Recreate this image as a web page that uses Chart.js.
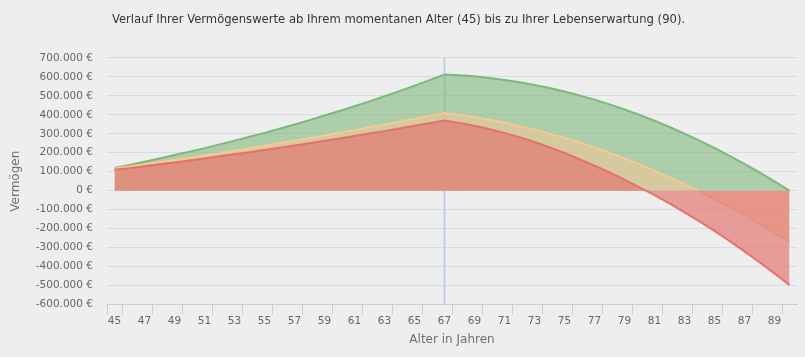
<!DOCTYPE html>
<html><head><meta charset="utf-8">
<script src="https://cdn.jsdelivr.net/npm/chart.js@4.4.1/dist/chart.umd.min.js"></script>
<style>html,body{margin:0;padding:0;background:#eeeeee;}#wrap{width:805px;height:357px;}</style>
</head><body><div id="wrap"><canvas id="c" width="805" height="357"></canvas></div>
<script>
const ages = [45,46,47,48,49,50,51,52,53,54,55,56,57,58,59,60,61,62,63,64,65,66,67,68,69,70,71,72,73,74,75,76,77,78,79,80,81,82,83,84,85,86,87,88,89,90];
const retirementAge = 67;
const valuesGreen = [120000,136000,153000,170000,188000,206000,224000,244000,264000,284000,305000,327000,349000,372000,396000,420000,445000,471000,498000,525000,554000,583000,613000,609000,603000,594000,584000,572000,557000,541000,523000,502000,480000,455000,428000,400000,369000,336000,301000,264000,225000,184000,141000,96000,49000,0];
const valuesOrange = [117000,128000,139000,151000,162000,174000,186000,198000,211000,224000,237000,250000,263000,277000,291000,305000,319000,334000,349000,364000,379000,394000,410000,400000,388000,374000,358000,341000,322000,301000,278000,254000,228000,200000,170000,139000,106000,71000,35000,-4000,-44000,-86000,-129000,-174000,-221000,-270000];
const valuesRed = [110000,119000,129000,139000,149000,159000,170000,181000,192000,203000,214000,226000,238000,250000,263000,275000,288000,301000,314000,328000,342000,356000,370000,357000,342000,324000,305000,282000,257000,229000,199000,166000,132000,96000,58000,18000,-23000,-67000,-114000,-162000,-212000,-265000,-320000,-377000,-436000,-497000];
const yMin = -600000, yMax = 700000, yStep = 100000;

const FONT = "'DejaVu Sans', sans-serif";
function fmtEuro(v){
  const neg = v < 0; const s = Math.abs(Math.round(v)).toString().replace(/\B(?=(\d{3})+(?!\d))/g, '.');
  return (neg ? '-' : '') + s + ' €';
}
const plotLine = {
  id: 'plotLine',
  beforeDatasetsDraw(chart){
    const {ctx, chartArea, scales} = chart;
    const x = scales.x.getPixelForValue(ages.indexOf(retirementAge));
    ctx.save(); ctx.strokeStyle = '#c0d0e0'; ctx.lineWidth = 2;
    ctx.beginPath(); ctx.moveTo(x, chartArea.top); ctx.lineTo(x, chartArea.bottom); ctx.stroke(); ctx.restore();
  }
};
new Chart(document.getElementById('c'), {
  type: 'line',
  data: {
    labels: ages,
    datasets: [
      {data: valuesGreen, borderColor: 'rgb(126,184,124)', backgroundColor: 'rgba(130,186,128,0.62)', fill: 'origin', order: 3},
      {data: valuesOrange, borderColor: 'rgb(246,200,146)', backgroundColor: 'rgba(240,198,148,0.6)', fill: 'origin', order: 2},
      {data: valuesRed, borderColor: 'rgb(230,112,108)', backgroundColor: 'rgba(226,118,114,0.68)', fill: 'origin', order: 1}
    ]
  },
  options: {
    responsive: false, animation: false, devicePixelRatio: 1,
    elements: {point: {radius: 0}, line: {borderWidth: 2, tension: 0}},
    layout: {padding: {left: 0, right: 8, top: 0, bottom: 0}},
    plugins: {
      legend: {display: false}, tooltip: {enabled: false},
      title: {display: true, text: 'Verlauf Ihrer Vermögenswerte ab Ihrem momentanen Alter (45) bis zu Ihrer Lebenserwartung (90).',
        color: '#333333', font: {family: FONT, size: 11.6, weight: 'normal'}, padding: {top: 13, bottom: 31}}
    },
    scales: {
      x: {
        type: 'category', offset: true,
        grid: {offset: true, drawOnChartArea: false, drawTicks: true, tickLength: 10,
          color: c => (c.index === 0 || c.index % 2 === 1) ? '#c0d0e0' : 'rgba(0,0,0,0)'},
        border: {color: '#c0d0e0'},
        ticks: {autoSkip: false, maxRotation: 0, color: '#666666', font: {family: FONT, size: 10.5}, padding: 0,
          callback: (v, i) => i % 2 === 0 ? String(ages[i]) : ''},
        title: {display: true, text: 'Alter in Jahren', color: '#707070', font: {family: FONT, size: 12}, padding: {top: 4, bottom: 10}},
        afterFit: s => { s.height = 52.5; }
      },
      y: {
        min: yMin, max: yMax,
        ticks: {stepSize: yStep, color: '#666666', font: {family: FONT, size: 10.5}, padding: 14, callback: v => fmtEuro(v)},
        grid: {color: '#d5dce8', drawTicks: false},
        border: {display: false},
        title: {display: true, text: 'Vermögen', color: '#707070', font: {family: FONT, size: 12}, padding: {top: 9}},
        afterFit: s => { s.width = 107; }
      }
    }
  },
  plugins: [plotLine]
});
</script></body></html>
